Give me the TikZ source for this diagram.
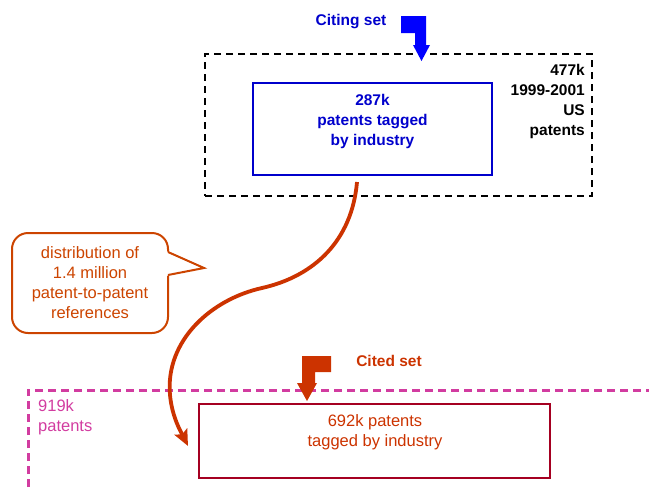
\documentclass[tikz,border=0pt]{standalone}
\usepackage{fontspec}
\setmainfont{Liberation Sans}
\usetikzlibrary{arrows.meta}
\definecolor{citeblue}{RGB}{0,0,204}
\definecolor{arrowblue}{RGB}{0,0,255}
\definecolor{citedred}{RGB}{204,51,0}
\definecolor{bubbleorange}{RGB}{204,68,0}
\definecolor{pinkish}{RGB}{210,60,160}
\definecolor{boxred}{RGB}{165,0,33}
\begin{document}
\begin{tikzpicture}[x=1pt,y=-1pt,
  boldtxt/.style={font=\fontsize{15.5}{20}\selectfont\bfseries, align=center, inner sep=0pt},
  regtxt/.style={font=\fontsize{16.5}{20}\selectfont, align=center, inner sep=0pt},
  setbox/.style={draw, line width=2.5pt, inner sep=0pt},
]
\useasboundingbox (0,0) rectangle (649,491);

% cited set outer (919k) dashed frame
\draw[pinkish, line width=3pt, dash pattern=on 8pt off 5pt] (28,500) -- (28,390) -- (660,390);

% citing set outer dashed box
\node[setbox, black, dash pattern=on 7pt off 5pt, minimum width=387pt, minimum height=142pt] (allset) at (398.5,125) {};
\node[boldtxt, align=right, anchor=east] (alllbl) at (585,101) {477k\\1999-2001\\US\\patents};

% citing inner box
\node[setbox, draw=citeblue, line width=2pt, minimum width=239pt, minimum height=92pt] (citing) at (372.5,128.5) {};
\node[boldtxt, text=citeblue] (citingtxt) at (372.5,121) {287k\\patents tagged\\by industry};

% citing set label and bent arrow
\node[boldtxt, text=citeblue] (citinglbl) at (351,22) {Citing set};
\fill[arrowblue] (401,16) -- (426,16) -- (426,45) -- (430,45) -- (421.5,61) -- (413,45) -- (415,45) -- (415,33) -- (401,33) -- cycle;

% cited set label and bent arrow
\node[boldtxt, text=citedred] (citedlbl) at (389,361) {Cited set};
\fill[citedred] (302,356) -- (331,356) -- (331,372) -- (315,372) -- (315,383) -- (317,383) -- (307,401) -- (297,383) -- (302,383) -- cycle;

% 919k label
\node[regtxt, text=pinkish, align=left, anchor=west] (alllbl2) at (38,417) {919k\\patents};

% cited inner box
\node[setbox, draw=boxred, minimum width=351pt, minimum height=74pt] (citedbox) at (374.5,441) {};
\node[regtxt, text=citedred] (citedtxt) at (375,432) {692k patents\\tagged by industry};

% speech bubble
\node[draw=bubbleorange, line width=2pt, rounded corners=16pt, minimum width=156pt, minimum height=100pt, regtxt, text=bubbleorange] (bubble) at (90,283) {distribution of\\1.4 million\\patent-to-patent\\references};
\fill[white] (166,251) -- (204,268) -- (166,276) -- cycle;
\draw[bubbleorange, line width=2pt, line join=miter] (168,252) -- (204,268) -- (168,275);

% reference flow curve
\coordinate (cstart) at (357,182);
\coordinate (cend) at (188,446);
\draw[citedred, line width=3.8pt, -{Stealth[length=16pt,width=14pt,inset=3pt]}]
  (cstart) .. controls (352,240) and (315,276) .. (262,288)
  .. controls (212,299) and (165,340) .. (170,395)
  .. controls (172,417) and (181,432) .. (cend);
\end{tikzpicture}
\end{document}
